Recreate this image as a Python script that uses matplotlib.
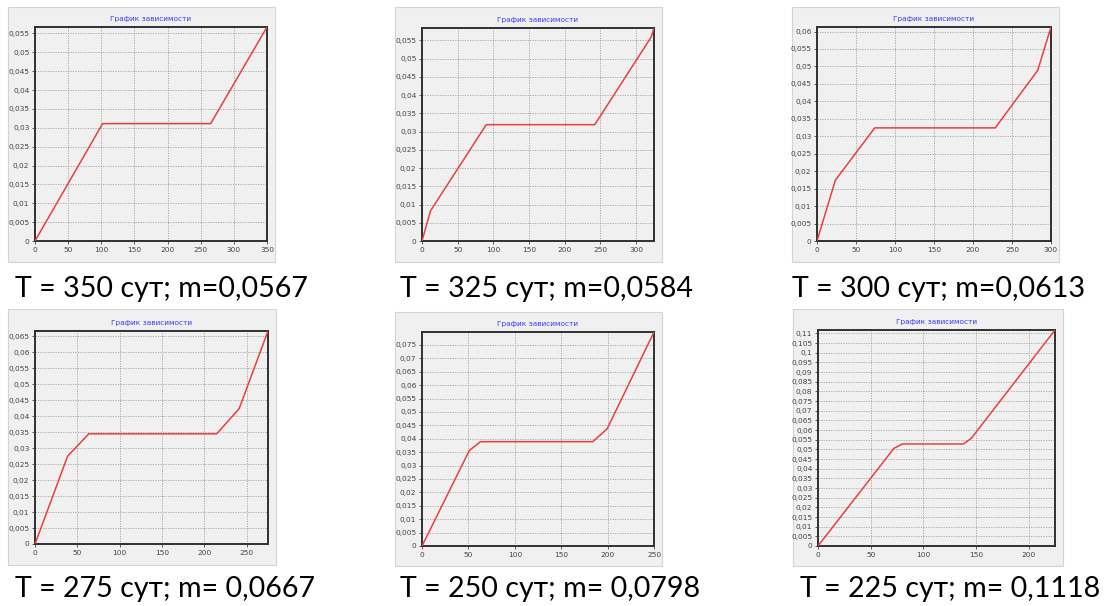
import matplotlib
matplotlib.use("Agg")
import matplotlib.pyplot as plt
from matplotlib.patches import Rectangle
from matplotlib.ticker import MultipleLocator, FuncFormatter
from matplotlib import font_manager

# ---- data ----
periods = [350, 325, 300, 275, 250, 225]
captions = ["T = 350 сут; m=0,0567", "T = 325 сут; m=0,0584", "T = 300 сут; m=0,0613",
            "T = 275 сут; m= 0,0667", "T = 250 сут; m= 0,0798", "T = 225 сут; m= 0,1118"]
y_max = [0.0567, 0.0584, 0.0613, 0.0667, 0.0798, 0.1118]

x1 = [0, 102, 265, 350]
y1 = [0, 0.0311, 0.0311, 0.0567]
x2 = [0, 12, 90, 242, 321, 325]
y2 = [0, 0.0083, 0.0319, 0.0319, 0.0559, 0.0584]
x3 = [0, 23.5, 74, 228.5, 283, 300]
y3 = [0, 0.0174, 0.0324, 0.0324, 0.0489, 0.0613]
x4 = [0, 38.5, 63.5, 214.5, 241, 275]
y4 = [0, 0.0275, 0.0345, 0.0345, 0.0424, 0.0667]
x5 = [0, 51, 63, 184, 199.5, 250]
y5 = [0, 0.0356, 0.0389, 0.0389, 0.0437, 0.0798]
x6 = [0, 72, 80, 138, 145.5, 225]
y6 = [0, 0.0505, 0.0528, 0.0528, 0.0557, 0.1118]
series_x = [x1, x2, x3, x4, x5, x6]
series_y = [y1, y2, y3, y4, y5, y6]

title_text = "График зависимости"

# ---- layout (pixels) ----
W, H = 1106, 606
fig = plt.figure(figsize=(W / 100, H / 100), dpi=100)
fig.patch.set_facecolor("white")

frames = [(8, 7, 275, 262), (395, 7, 662, 262), (792, 7, 1059, 262),
          (8, 309, 276, 565), (395, 312, 662, 566), (793, 309, 1063, 566)]
axes_px = [(35, 27, 267, 241), (422, 28, 654, 241), (817, 27, 1051, 241),
           (35, 331, 268, 544), (422, 332, 654, 546), (818, 330, 1055, 546)]
cap_x = [15, 400, 792, 15, 400, 800]
cap_base = [297, 297, 297, 597, 597, 597]


def fmt(v, pos):
    s = ("%.3f" % v).rstrip("0").rstrip(".")
    return s.replace(".", ",")


for i in range(6):
    fl, ft, fr, fb = frames[i]
    fig.add_artist(Rectangle((fl / W, 1 - fb / H), (fr - fl) / W, (fb - ft) / H,
                             transform=fig.transFigure, facecolor="#f0f0f0",
                             edgecolor="#d4d4d4", lw=0.8, zorder=-5))

for i in range(6):
    al, at, ar, ab = axes_px[i]
    ax = fig.add_axes([al / W, 1 - ab / H, (ar - al) / W, (ab - at) / H], zorder=2)
    ax.set_facecolor("#f0f0f0")
    ax.plot(series_x[i], series_y[i], color="#e8403f", lw=1.1, zorder=3)
    ax.set_xlim(0, periods[i])
    ax.set_ylim(0, y_max[i])
    ax.xaxis.set_major_locator(MultipleLocator(50))
    ax.yaxis.set_major_locator(MultipleLocator(0.005))
    ax.yaxis.set_major_formatter(FuncFormatter(fmt))
    ax.grid(True, color="#a0a0a0", ls=(0, (1.5, 1.5)), lw=0.6)
    ax.tick_params(labelsize=5.3, colors="#444444", length=2, width=0.6, pad=2)
    for sp in ax.spines.values():
        sp.set_color("#303030")
        sp.set_linewidth(1.4)
    ax.set_title(title_text, fontsize=5.3, color="#3a3aff", pad=4)

# captions
names = {f.name for f in font_manager.fontManager.ttflist}
cap_font = "Liberation Sans Narrow" if "Liberation Sans Narrow" in names else "Lato"
t0 = fig.text(0, 0, captions[0], fontsize=20, family=cap_font)
fig.canvas.draw()
w0 = t0.get_window_extent().width
t0.remove()
fs = 20 * 293 / w0
for i in range(6):
    fig.text(cap_x[i] / W, 1 - cap_base[i] / H, captions[i], fontsize=fs,
             family=cap_font, color="black", va="baseline", ha="left", zorder=5)

fig.savefig("out.png", dpi=100)
